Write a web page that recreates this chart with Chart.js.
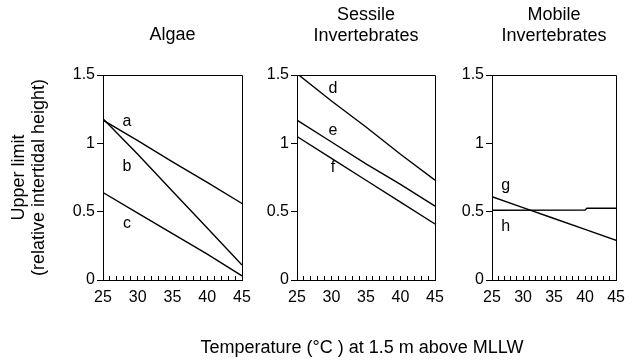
<!DOCTYPE html>
<html>
<head>
<meta charset="utf-8">
<script src="https://cdn.jsdelivr.net/npm/chart.js@4.4.1/dist/chart.umd.min.js"></script>
<style>
html, body { margin: 0; padding: 0; background: #fff; overflow: hidden; }
#wrap { position: relative; width: 637px; height: 364px; }
.panel { position: absolute; left: 0; top: 0; width: 637px; height: 364px; }
</style>
</head>
<body>
<div id="wrap">
  <div class="panel"><canvas id="algae"></canvas></div>
  <div class="panel"><canvas id="sessile"></canvas></div>
  <div class="panel"><canvas id="mobile"></canvas></div>
</div>
<script>
// temperature (deg C) along the x axis
var temps = [25, 30, 35, 40, 45];
var tempsH = [25, 40, 40.3, 45];

// upper limit (relative intertidal height)
var algaeA = [1.17, 1.02, 0.865, 0.715, 0.56];
var algaeB = [1.18, 0.92, 0.65, 0.38, 0.11];
var algaeC = [0.64, 0.49, 0.34, 0.19, 0.03];
var sessileD = [1.51, 1.31, 1.12, 0.92, 0.73];
var sessileE = [1.17, 1.01, 0.85, 0.70, 0.54];
var sessileF = [1.05, 0.89, 0.73, 0.57, 0.41];
var mobileG = [0.61, 0.53, 0.45, 0.37, 0.29];
var mobileH = [0.51, 0.512, 0.525, 0.525];

var panelTitles = [["Algae"], ["Sessile", "Invertebrates"], ["Mobile", "Invertebrates"]];
var xAxisTitle = "Temperature (\u00B0C ) at 1.5 m above MLLW";
var yAxisTitle = ["Upper limit", "(relative intertidal height)"];
var yTicks = [0, 0.5, 1, 1.5];
var yTickLabels = ["0", "0.5", "1", "1.5"];
var xMajorTicks = [25, 30, 35, 40, 45];

// curve letters and where they sit (data units)
var algaeLetters = ["a", "b", "c"];
var algaeLetterX = [28.45, 28.45, 28.45];
var algaeLetterY = [1.16, 0.83, 0.41];
var sessileLetters = ["d", "e", "f"];
var sessileLetterX = [30.2, 30.2, 30.2];
var sessileLetterY = [1.40, 1.09, 0.82];
var mobileLetters = ["g", "h"];
var mobileLetterX = [27.2, 27.2];
var mobileLetterY = [0.69, 0.39];

var FONT = "'Liberation Sans', Arial, sans-serif";
Chart.defaults.font.family = FONT;
Chart.defaults.color = "#000";

function toPoints(xs, ys) {
    var pts = [];
    for (var i = 0; i < ys.length; i++) {
        pts.push({x: xs[i], y: ys[i]});
    }
    return pts;
}

function line(xs, ys) {
    return {
        data: toPoints(xs, ys),
        borderColor: "#000",
        borderWidth: 1.4,
        pointRadius: 0,
        fill: false,
        tension: 0
    };
}

// box round the plot, the curve letters and the shared x title
var panelExtras = {
    id: "panelExtras",
    afterDatasetsDraw: function (chart, args, opts) {
        var ctx = chart.ctx;
        var a = chart.chartArea;
        var xs = chart.scales.x, ys = chart.scales.y;
        ctx.save();
        ctx.strokeStyle = "#000";
        ctx.lineWidth = 1;
        ctx.beginPath();
        ctx.moveTo(Math.round(a.left), Math.round(a.top) + 0.5);
        ctx.lineTo(Math.round(a.right) + 0.5, Math.round(a.top) + 0.5);
        ctx.lineTo(Math.round(a.right) + 0.5, Math.round(a.bottom));
        ctx.stroke();
        ctx.fillStyle = "#000";
        ctx.font = "16px " + FONT;
        ctx.textAlign = "center";
        ctx.textBaseline = "middle";
        for (var i = 0; i < opts.letters.length; i++) {
            ctx.fillText(opts.letters[i], xs.getPixelForValue(opts.lx[i]), ys.getPixelForValue(opts.ly[i]));
        }
        if (opts.xTitle) {
            ctx.font = "18px " + FONT;
            ctx.fillText(opts.xTitle, (a.left + a.right) / 2 - 4, 348);
        }
        ctx.restore();
    }
};

function makePanel(id, p) {
    var titleLines = p.title;
    var titlePad = titleLines.length === 1 ? {top: 25, bottom: 29} : {top: 4.5, bottom: 28.5};
    return new Chart(document.getElementById(id), {
        type: "line",
        data: { datasets: p.datasets },
        plugins: [panelExtras],
        options: {
            responsive: true,
            maintainAspectRatio: false,
            animation: false,
            events: [],
            layout: {
                autoPadding: false,
                padding: {left: p.padLeft, right: p.padRight, top: 0, bottom: 0}
            },
            plugins: {
                legend: { display: false },
                tooltip: { enabled: false },
                title: {
                    display: true,
                    text: titleLines,
                    fullSize: false,
                    color: "#000",
                    font: {size: 18, weight: "normal", lineHeight: 21 / 18},
                    padding: titlePad
                },
                panelExtras: { letters: p.letters, lx: p.lx, ly: p.ly, xTitle: p.xTitle }
            },
            scales: {
                x: {
                    type: "linear",
                    min: 25,
                    max: 45,
                    afterFit: function (s) { s.height = 84; },
                    ticks: {
                        stepSize: 1,
                        autoSkip: false,
                        maxRotation: 0,
                        padding: 12,
                        color: "#000",
                        font: {size: 16},
                        callback: function (v) {
                            return xMajorTicks.indexOf(v) >= 0 ? String(v) : "";
                        }
                    },
                    grid: { drawOnChartArea: false, drawTicks: true, tickLength: -4, color: "#000" },
                    border: { color: "#000", width: 1 }
                },
                y: {
                    min: 0,
                    max: 1.5,
                    afterFit: function (s) { s.width = p.yWidth; },
                    afterBuildTicks: function (s) {
                        s.ticks = yTicks.map(function (v) { return {value: v}; });
                    },
                    ticks: {
                        padding: 2,
                        color: "#000",
                        font: {size: 16},
                        callback: function (v, i) { return yTickLabels[i]; }
                    },
                    grid: { drawOnChartArea: false, drawTicks: true, tickLength: 6, color: "#000" },
                    border: { color: "#000", width: 1 },
                    title: p.yTitle ? {
                        display: true,
                        text: p.yTitle,
                        color: "#000",
                        font: {size: 18, lineHeight: 20 / 18},
                        padding: {top: 9, bottom: 0}
                    } : { display: false }
                }
            }
        }
    });
}

makePanel("algae", {
    title: panelTitles[0],
    padLeft: 0, padRight: 395, yWidth: 103,
    yTitle: yAxisTitle,
    datasets: [line(temps, algaeA), line(temps, algaeB), line(temps, algaeC)],
    letters: algaeLetters, lx: algaeLetterX, ly: algaeLetterY
});

makePanel("sessile", {
    title: panelTitles[1],
    padLeft: 252, padRight: 202, yWidth: 45,
    xTitle: xAxisTitle,
    datasets: [line(temps, sessileD), line(temps, sessileE), line(temps, sessileF)],
    letters: sessileLetters, lx: sessileLetterX, ly: sessileLetterY
});

makePanel("mobile", {
    title: panelTitles[2],
    padLeft: 447, padRight: 7, yWidth: 45,
    datasets: [line(temps, mobileG), line(tempsH, mobileH)],
    letters: mobileLetters, lx: mobileLetterX, ly: mobileLetterY
});
</script>
</body>
</html>
